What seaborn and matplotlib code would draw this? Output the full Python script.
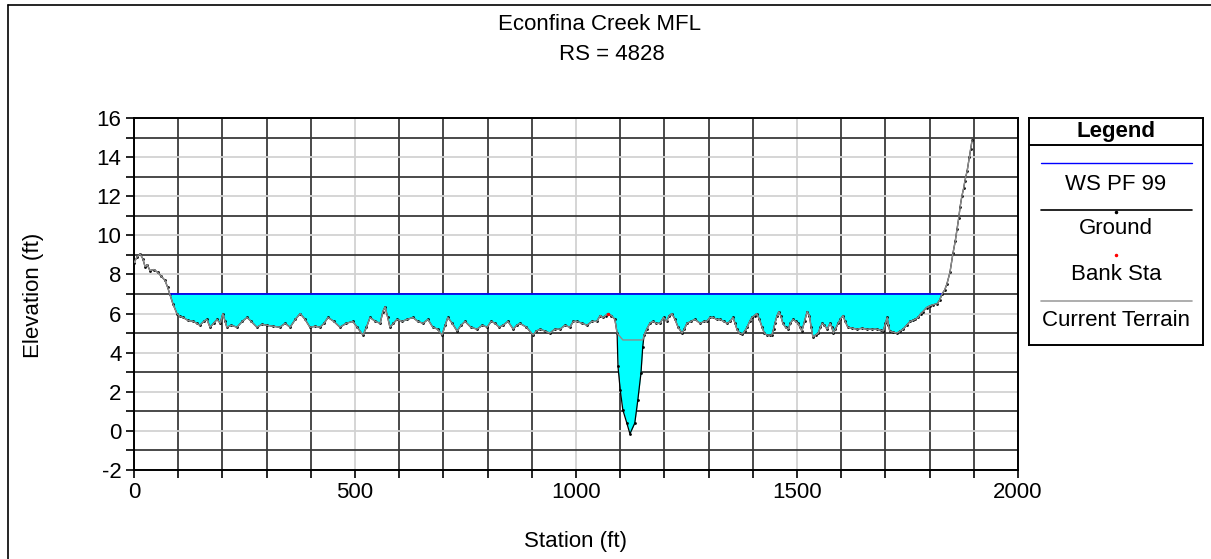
import matplotlib
matplotlib.use('Agg')
import matplotlib.pyplot as plt
from matplotlib.lines import Line2D
import seaborn as sns
import pandas as pd
import numpy as np

sns.set_theme(style='white')
plt.rcParams['font.family'] = ['Liberation Sans', 'DejaVu Sans']
plt.rcParams['axes.unicode_minus'] = False
plt.rcParams['text.color'] = 'black'
plt.rcParams['xtick.color'] = 'black'
plt.rcParams['ytick.color'] = 'black'

# ground profile (station ft, elevation ft)
station = [0, 7, 14, 20, 25, 30, 36, 45, 54, 62, 70, 76, 81, 88, 97, 104, 111, 122, 134, 142,
           149, 158, 165, 172, 180, 188, 195, 201, 206, 210, 220, 233, 245, 256, 265, 278, 290, 301, 315, 330,
           342, 353, 365, 376, 387, 398, 410, 421, 430, 439, 452, 466, 480, 495, 505, 518, 526, 534, 546, 557,
           563, 568, 574, 579, 587, 595, 607, 618, 631, 642, 654, 665, 676, 687, 697, 704, 710, 720, 731, 740,
           749, 762, 776, 788, 799, 808, 817, 826, 835, 846, 858, 866, 873, 888, 903, 910, 919, 930, 941, 952,
           964, 975, 986, 994, 1002, 1014, 1025, 1036, 1047, 1055, 1061, 1067, 1072, 1080, 1088, 1093, 1095, 1100, 1106, 1115,
           1122, 1133, 1140, 1147, 1151, 1154, 1160, 1167, 1174, 1182, 1190, 1198, 1205, 1211, 1217, 1224, 1231, 1240, 1245, 1251,
           1260, 1269, 1281, 1290, 1296, 1303, 1310, 1318, 1326, 1334, 1342, 1349, 1355, 1360, 1364, 1370, 1376, 1382, 1387, 1393,
           1398, 1404, 1409, 1415, 1421, 1426, 1432, 1438, 1443, 1447, 1450, 1455, 1459, 1463, 1468, 1474, 1480, 1485, 1491, 1497,
           1502, 1507, 1511, 1517, 1523, 1528, 1532, 1536, 1542, 1548, 1553, 1557, 1562, 1568, 1575, 1579, 1582, 1587, 1593, 1598,
           1604, 1609, 1615, 1625, 1636, 1647, 1658, 1670, 1681, 1690, 1695, 1700, 1704, 1707, 1710, 1718, 1726, 1733, 1740, 1748,
           1756, 1762, 1767, 1774, 1780, 1785, 1793, 1801, 1808, 1817, 1823, 1828, 1834, 1839, 1846, 1853, 1858, 1862, 1866, 1869,
           1873, 1877, 1880, 1885, 1890, 1893, 1896]
elevation = [8.6, 8.9, 9.05, 8.8, 8.4, 8.5, 8.2, 8.25, 8.1, 7.9, 7.7, 7.35, 7.0, 6.5, 6.0, 5.85, 5.8, 5.65, 5.6, 5.5,
             5.4, 5.6, 5.7, 5.3, 5.5, 5.7, 5.5, 6.0, 5.6, 5.3, 5.4, 5.3, 5.6, 5.8, 5.6, 5.3, 5.45, 5.4, 5.35, 5.3,
             5.5, 5.3, 5.7, 6.0, 5.7, 5.3, 5.35, 5.3, 5.5, 5.8, 5.6, 5.3, 5.5, 5.6, 5.3, 4.9, 5.3, 5.8, 5.6, 5.5,
             6.1, 6.35, 5.8, 5.3, 5.5, 5.7, 5.6, 5.7, 5.8, 5.6, 5.5, 5.7, 5.3, 5.2, 4.9, 5.4, 5.8, 5.5, 5.1, 5.4,
             5.6, 5.3, 5.2, 5.4, 5.3, 5.6, 5.5, 5.3, 5.4, 5.6, 5.2, 5.4, 5.5, 5.3, 4.9, 5.1, 5.2, 5.1, 5.0, 5.2,
             5.2, 5.4, 5.3, 5.6, 5.6, 5.5, 5.4, 5.6, 5.6, 5.9, 5.8, 5.9, 6.0, 5.9, 5.7, 5.0, 3.3, 2.1, 1.07, 0.4,
             -0.15, 0.4, 1.6, 2.96, 4.3, 4.9, 5.2, 5.5, 5.6, 5.5, 5.5, 5.8, 5.6, 5.9, 6.0, 5.7, 5.3, 5.0, 5.2, 5.5,
             5.6, 5.7, 5.5, 5.6, 5.6, 5.8, 5.8, 5.7, 5.7, 5.6, 5.5, 5.6, 5.8, 5.5, 5.2, 5.0, 4.95, 5.1, 5.3, 5.6,
             5.8, 5.9, 6.0, 5.7, 5.3, 5.0, 4.9, 4.9, 4.9, 5.2, 5.5, 5.9, 6.1, 5.9, 5.5, 5.3, 5.2, 5.5, 5.7, 5.6,
             5.5, 5.3, 5.1, 5.6, 6.1, 5.9, 5.3, 4.8, 4.9, 5.0, 5.3, 5.5, 5.4, 5.2, 5.5, 5.3, 5.0, 5.2, 5.5, 5.7,
             5.9, 5.6, 5.3, 5.25, 5.2, 5.25, 5.2, 5.2, 5.2, 5.15, 5.1, 5.5, 5.8, 5.4, 5.1, 5.05, 5.0, 5.1, 5.2, 5.4,
             5.6, 5.65, 5.7, 5.8, 6.0, 6.1, 6.3, 6.4, 6.45, 6.5, 6.7, 7.0, 7.2, 7.5, 8.1, 9.1, 9.7, 10.3, 10.9, 11.45,
             12.0, 12.4, 12.8, 13.3, 14.0, 14.4, 14.85]

# current terrain differs from ground only inside the main channel
terrain_ch_sta = [1093, 1106, 1151, 1154]
terrain_ch_elev = [5.0, 4.65, 4.65, 4.9]

# water surface PF 99
ws_elev = 7.0
ws_sta = [81, 1828]

# bank station (visible one)
bank_sta = [1072]
bank_elev = [6.0]

ground = pd.DataFrame({'Station': station, 'Elevation': elevation})
outside = ground[(ground.Station < terrain_ch_sta[0]) | (ground.Station > terrain_ch_sta[-1])]
terrain = pd.concat([outside, pd.DataFrame({'Station': terrain_ch_sta, 'Elevation': terrain_ch_elev})])
terrain = terrain.sort_values('Station')

W, H = 1211, 559
FS = 16
fig = plt.figure(figsize=(W / 100, H / 100), dpi=100)
ax = fig.add_axes([134 / W, 1 - 470 / H, 884 / W, 352 / H])

# water fill
x = np.array(station, dtype=float)
y = np.array(elevation, dtype=float)
ax.fill_between(x, y, ws_elev, where=y <= ws_elev, interpolate=True, color='#00ffff', lw=0, zorder=2)

ax.plot(ws_sta, [ws_elev, ws_elev], color='#0000ff', lw=1.2, zorder=4)
sns.lineplot(data=ground, x='Station', y='Elevation', ax=ax, color='black', lw=0.9,
             marker='o', markersize=2, markeredgewidth=0, sort=False, estimator=None, zorder=3)
sns.lineplot(data=terrain, x='Station', y='Elevation', ax=ax, color='#8c8c8c', lw=1.0,
             sort=False, estimator=None, zorder=4)
sns.scatterplot(x=bank_sta, y=bank_elev, ax=ax, color='red', s=6, linewidth=0, zorder=5)

ax.set_xlim(0, 2000)
ax.set_ylim(-2, 16)
ax.set_xticks(range(0, 2001, 500))
ax.set_xticks(range(0, 2001, 100), minor=True)
ax.set_yticks(range(-2, 17, 2))
ax.set_yticks(range(-1, 17, 2), minor=True)
ax.grid(True, which='major', color='#d2d2d2', lw=1.3, zorder=0)
ax.grid(True, which='minor', color='#3a3a3a', lw=1.3, zorder=0)
ax.set_axisbelow(True)
ax.tick_params(which='both', direction='out', length=6, width=1.2, color='black',
               left=True, bottom=True, labelsize=FS, labelcolor='black', pad=3)
ax.set_xlabel('')
ax.set_ylabel('')
for s in ax.spines.values():
    s.set_color('black')
    s.set_linewidth(1.4)

fig.text(600 / W, 1 - 25 / H, 'Econfina Creek MFL', ha='center', va='center', fontsize=FS)
fig.text(612 / W, 1 - 55 / H, 'RS = 4828', ha='center', va='center', fontsize=FS)
fig.text(33 / W, 1 - 295 / H, 'Elevation (ft)', ha='center', va='center', rotation=90, fontsize=FS)
fig.text(576 / W, 1 - 541 / H, 'Station (ft)', ha='center', va='center', fontsize=FS)

# outer frame (left and top edges)
fig.add_artist(Line2D([8 / W, 8 / W], [0, 1 - 5 / H], color='black', lw=1.2))
fig.add_artist(Line2D([8 / W, 1], [1 - 5 / H, 1 - 5 / H], color='black', lw=1.2))

# legend box
lg = fig.add_axes([1029 / W, 1 - 345 / H, 174 / W, 227 / H])
lg.set_xlim(0, 174)
lg.set_ylim(227, 0)
lg.set_xticks([])
lg.set_yticks([])
for s in lg.spines.values():
    s.set_color('black')
    s.set_linewidth(1.4)
lg.axhline(27, color='black', lw=1.4)
lg.text(87, 13, 'Legend', ha='center', va='center', fontsize=FS, fontweight='bold')
lg.plot([12, 163], [45, 45], color='#0000ff', lw=1.0)
lg.text(87, 66, 'WS PF 99', ha='center', va='center', fontsize=FS)
lg.plot([12, 163], [92, 92], color='black', lw=1.2)
lg.plot([87], [94], marker='o', ms=1.5, color='black')
lg.text(87, 111, 'Ground', ha='center', va='center', fontsize=FS)
lg.plot([87], [137], marker='o', ms=1.5, color='red')
lg.text(87, 157, 'Bank Sta', ha='center', va='center', fontsize=FS)
lg.plot([12, 163], [183, 183], color='#a0a0a0', lw=1.2)
lg.text(87, 202, 'Current Terrain', ha='center', va='center', fontsize=FS)

fig.savefig('out.png', dpi=100)
